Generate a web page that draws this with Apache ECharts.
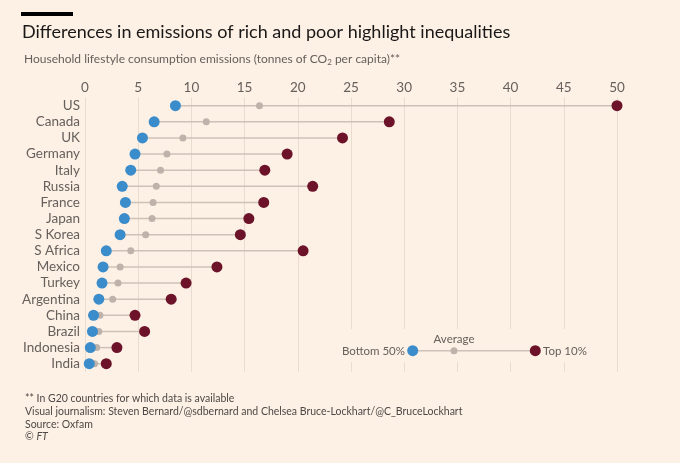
<!DOCTYPE html>
<html>
<head>
    <meta charset="UTF-8">
    <title>Emissions of rich and poor</title>
    <script src="https://cdn.jsdelivr.net/npm/echarts@6/dist/echarts.min.js"></script>
    <style>
        html, body { margin: 0; padding: 0; background: #fdf1e6; }
        #chart { width: 680px; height: 463px; }
    </style>
</head>
<body>
<div id="chart"></div>
<script type="text/javascript">
    // countries, top to bottom
    var countries = ['US', 'Canada', 'UK', 'Germany', 'Italy', 'Russia', 'France', 'Japan', 'S Korea',
        'S Africa', 'Mexico', 'Turkey', 'Argentina', 'China', 'Brazil', 'Indonesia', 'India'];
    // tonnes of CO2 per capita
    var bottom50 = [8.5, 6.5, 5.4, 4.7, 4.3, 3.5, 3.8, 3.7, 3.3, 2.0, 1.7, 1.6, 1.3, 0.8, 0.7, 0.5, 0.4];
    var average = [16.4, 11.4, 9.2, 7.7, 7.1, 6.7, 6.4, 6.3, 5.7, 4.3, 3.3, 3.1, 2.6, 1.4, 1.3, 1.1, 0.9];
    var top10 = [50.0, 28.6, 24.2, 19.0, 16.9, 21.4, 16.8, 15.4, 14.6, 20.5, 12.4, 9.5, 8.1, 4.7, 5.6, 3.0, 2.0];
    var xTicks = [0, 50, 5]; // min, max, interval

    var BLUE = '#3a8ccb';
    var RED = '#6d1329';
    var GREY = '#beb3ab';
    var LINE = '#cdc1b8';
    var TEXT = '#66605c';
    var FONT = 'Lato, sans-serif';

    var chart = echarts.init(document.getElementById('chart'));

    var option = {
        backgroundColor: '#fdf1e6',
        animation: false,
        textStyle: { fontFamily: FONT },
        grid: { left: 85, right: 63, top: 97.6, bottom: 91.2 },
        xAxis: {
            type: 'value',
            position: 'top',
            min: xTicks[0],
            max: xTicks[1],
            interval: xTicks[2],
            axisLine: { show: false },
            axisTick: { show: false },
            axisLabel: { color: TEXT, fontSize: 13.5, margin: 3, fontFamily: FONT },
            splitLine: { lineStyle: { color: '#e8dbd0', width: 1 } }
        },
        yAxis: {
            type: 'category',
            inverse: true,
            data: countries,
            axisLine: { show: false },
            axisTick: { show: false },
            axisLabel: { color: TEXT, fontSize: 13.5, margin: 5, interval: 0, fontFamily: FONT }
        },
        series: [
            {
                // connecting line between bottom 50% and top 10%
                type: 'custom',
                renderItem: function (params, api) {
                    var a = api.coord([api.value(0), api.value(2)]);
                    var b = api.coord([api.value(1), api.value(2)]);
                    return {
                        type: 'line',
                        shape: { x1: a[0], y1: a[1], x2: b[0], y2: b[1] },
                        style: { stroke: LINE, lineWidth: 1.5 }
                    };
                },
                encode: { x: [0, 1], y: 2 },
                data: countries.map(function (c, i) { return [bottom50[i], top10[i], i]; }),
                z: 1
            },
            {
                name: 'Average',
                type: 'scatter',
                symbolSize: 7,
                itemStyle: { color: GREY, opacity: 1 },
                data: countries.map(function (c, i) { return [average[i], i]; }),
                z: 2
            },
            {
                name: 'Bottom 50%',
                type: 'scatter',
                symbolSize: 11,
                itemStyle: { color: BLUE, opacity: 1 },
                data: countries.map(function (c, i) { return [bottom50[i], i]; }),
                z: 3
            },
            {
                name: 'Top 10%',
                type: 'scatter',
                symbolSize: 11,
                itemStyle: { color: RED, opacity: 1 },
                data: countries.map(function (c, i) { return [top10[i], i]; }),
                z: 3
            }
        ],
        graphic: [
            { type: 'rect', left: 21, top: 12, shape: { width: 52, height: 4 }, style: { fill: '#000' } },
            {
                type: 'text', left: 22, top: 23,
                style: { text: 'Differences in emissions of rich and poor highlight inequalities', fill: '#1a1817', font: '18px ' + FONT }
            },
            {
                type: 'text', left: 24, top: 53,
                style: {
                    text: 'Household lifestyle consumption emissions (tonnes of CO{sub|2} per capita)**',
                    fill: TEXT, font: '12px ' + FONT,
                    rich: { sub: { fontSize: 8, verticalAlign: 'bottom', padding: [6, 0, 0, 0], fill: TEXT, fontFamily: FONT } }
                }
            },
            // legend box
            { type: 'rect', left: 336, top: 329, shape: { width: 268, height: 33 }, style: { fill: '#fdf1e6' }, z: 10 },
            { type: 'line', shape: { x1: 412.7, y1: 350.7, x2: 535.3, y2: 350.7 }, style: { stroke: LINE, lineWidth: 1.5 }, z: 11 },
            { type: 'circle', shape: { cx: 454, cy: 350.7, r: 3.5 }, style: { fill: GREY }, z: 12 },
            { type: 'circle', shape: { cx: 412.7, cy: 350.7, r: 5.5 }, style: { fill: BLUE }, z: 12 },
            { type: 'circle', shape: { cx: 535.3, cy: 350.7, r: 5.5 }, style: { fill: RED }, z: 12 },
            {
                type: 'text', x: 405, y: 351, z: 12,
                style: { text: 'Bottom 50%', fill: TEXT, font: '11.5px ' + FONT, align: 'right', verticalAlign: 'middle' }
            },
            {
                type: 'text', x: 454, y: 339, z: 12,
                style: { text: 'Average', fill: TEXT, font: '11.5px ' + FONT, align: 'center', verticalAlign: 'middle' }
            },
            {
                type: 'text', x: 543, y: 351, z: 12,
                style: { text: 'Top 10%', fill: TEXT, font: '11.5px ' + FONT, align: 'left', verticalAlign: 'middle' }
            },
            // footer
            {
                type: 'text', left: 25, top: 392,
                style: {
                    text: '** In G20 countries for which data is available\n' +
                        'Visual journalism: Steven Bernard/@sdbernard and Chelsea Bruce-Lockhart/@C_BruceLockhart\n' +
                        'Source: Oxfam',
                    fill: '#4d4845', font: '10.5px ' + FONT, lineHeight: 13
                }
            },
            {
                type: 'text', left: 25, top: 431,
                style: { text: '© {i|FT}', fill: '#4d4845', font: '10.5px ' + FONT, rich: { i: { fontStyle: 'italic', fontSize: 10.5, fill: '#4d4845', fontFamily: FONT } } }
            }
        ]
    };

    chart.setOption(option);
</script>
</body>
</html>
